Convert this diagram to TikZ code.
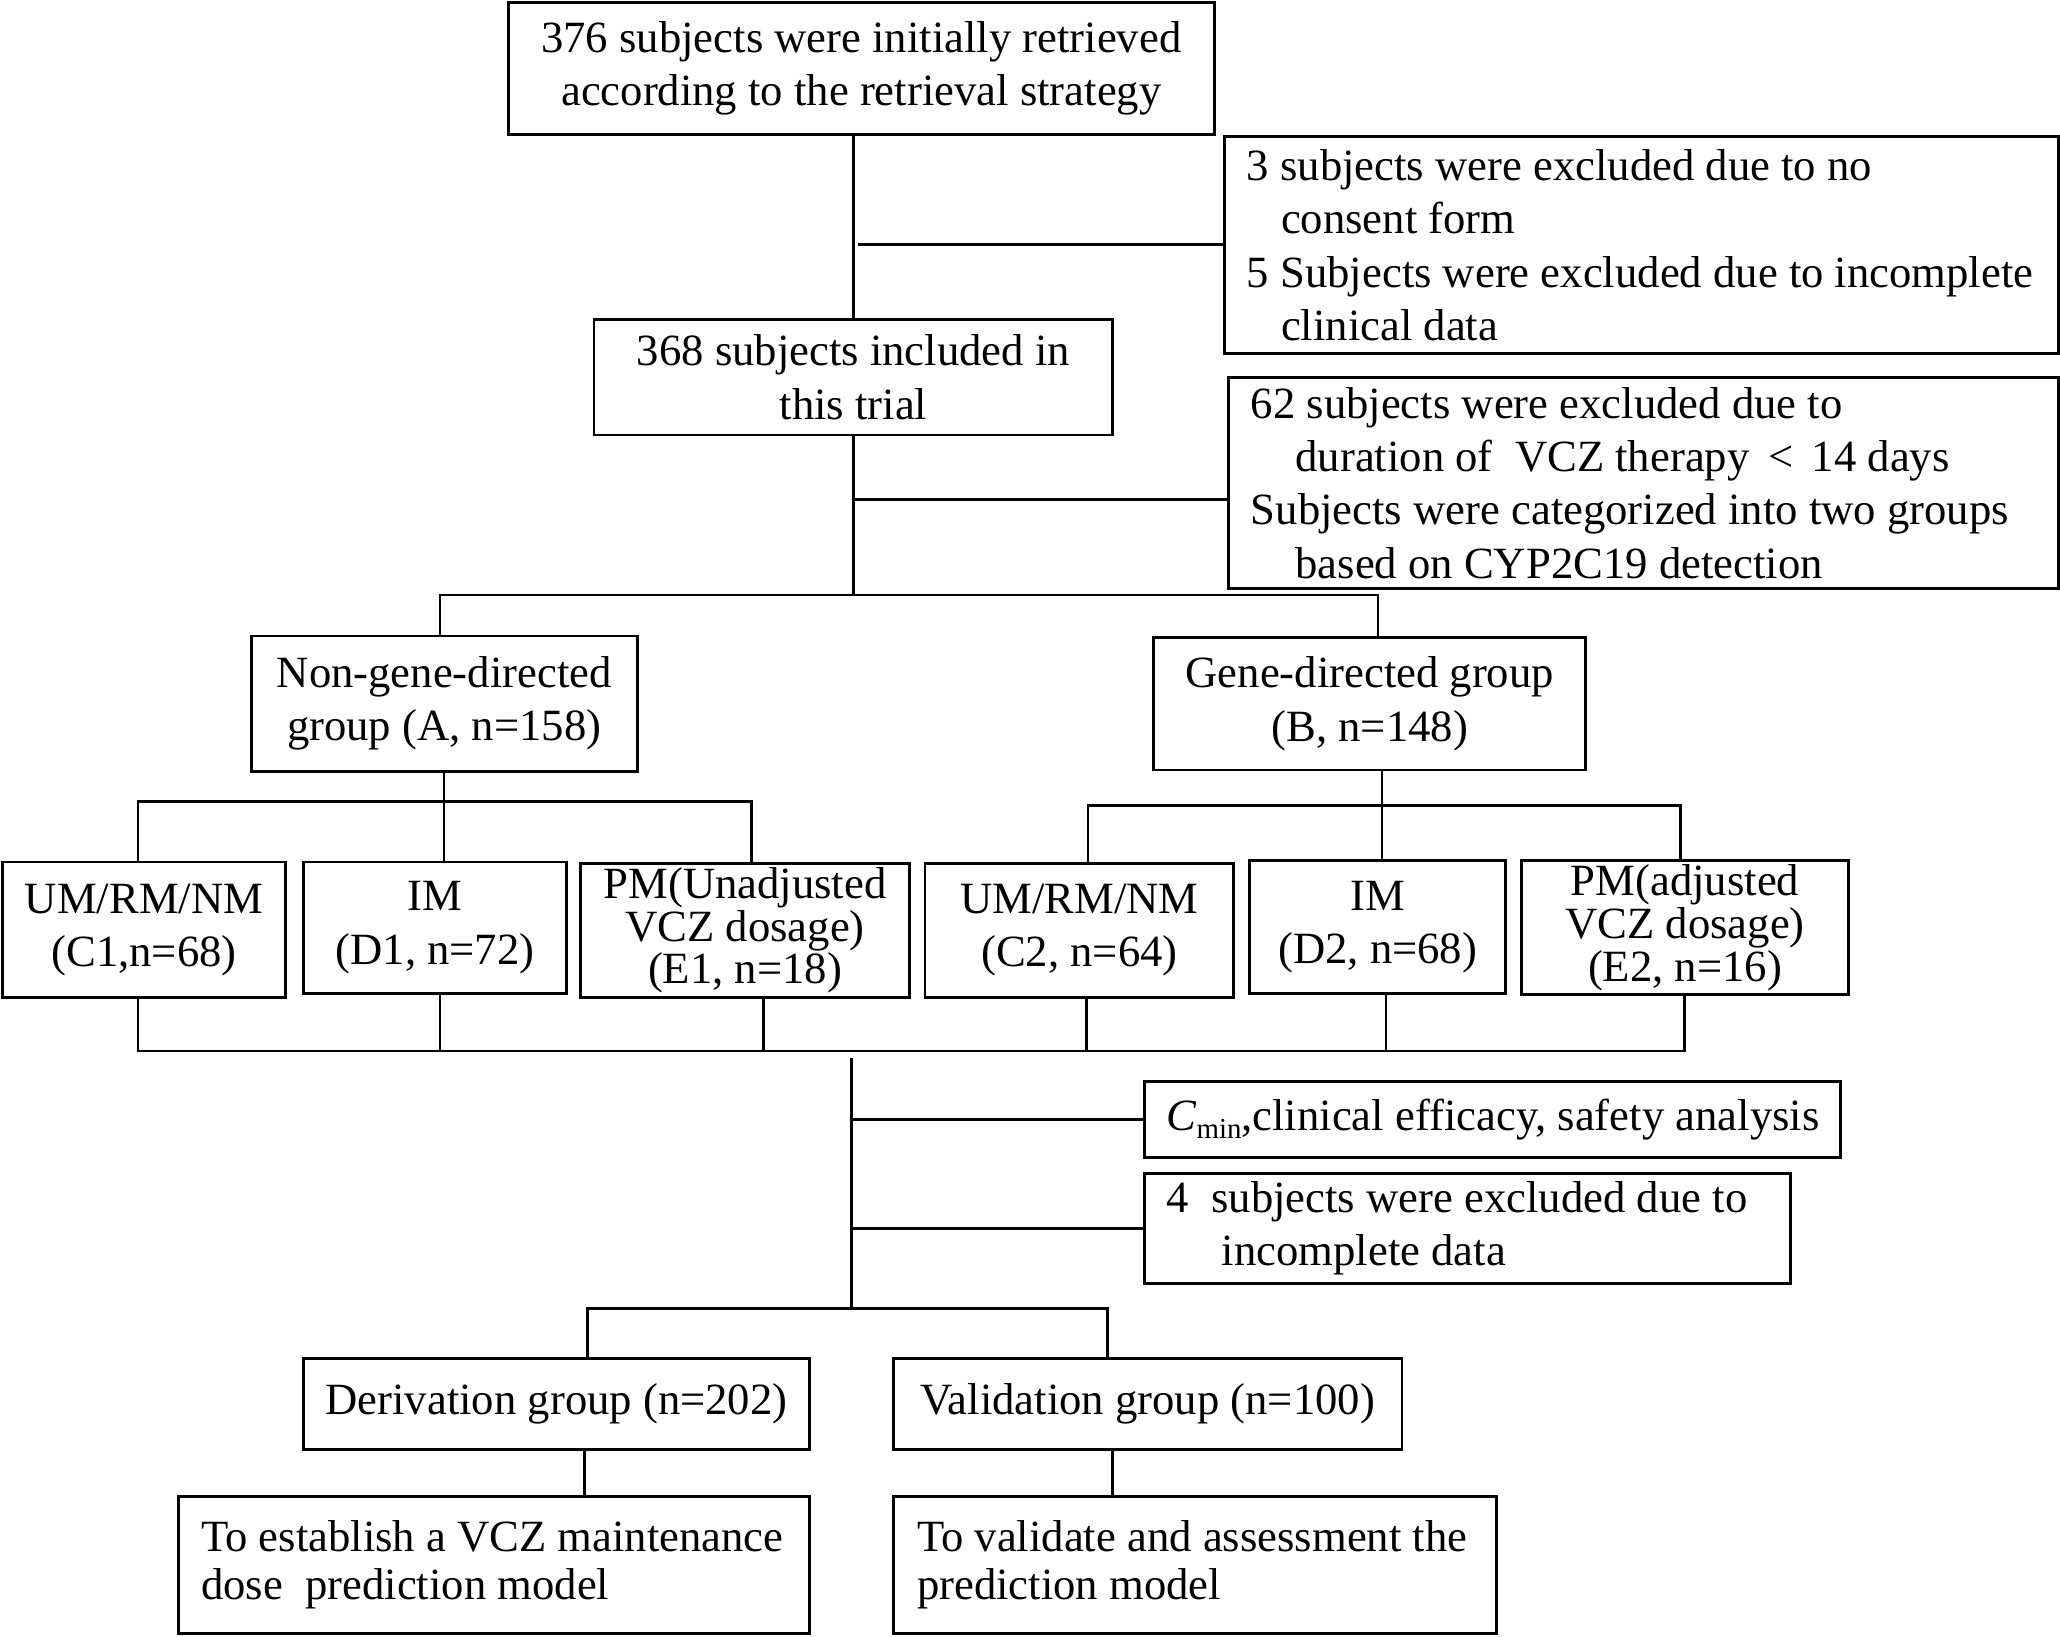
\documentclass[tikz,border=0pt]{standalone}
\usepackage{fontspec}
\setmainfont{Liberation Serif}
\newcommand{\oneln}[1]{\mbox{#1}}
\newcommand{\natsp}{\spaceskip=0pt\relax\xspaceskip=0pt\relax}
\begin{document}
\begin{tikzpicture}[x=1pt,y=-1pt]
\tikzset{
 bx/.style={draw, line width=2.2pt, inner sep=0pt, anchor=north west, align=center, font=\fontsize{34}{40.5}\selectfont},
 lbx/.style={bx, align=flush left},
 ln/.style={line width=2pt},
}
\useasboundingbox (0,0) rectangle (1568,1245.3);
\node[bx, minimum width=537pt, minimum height=100pt] (top) at (386,1) {376 subjects were initially retrieved\\according to the retrieval strategy};
\node[lbx, text width=601pt, inner xsep=17pt, minimum height=165pt] (ex1) at (931,103) {\natsp\oneln{3 subjects were excluded due to no}\\\hspace*{26pt}consent form\\\oneln{5 Subjects were excluded due to incomplete}\\\hspace*{26pt}clinical data};
\node[bx, minimum width=395pt, minimum height=88pt] (inc) at (451,242) {368 subjects included in\\this trial};
\node[lbx, text width=598pt, inner xsep=17pt, minimum height=161pt] (ex2) at (934,286) {\natsp\oneln{62 subjects were excluded due to}\\\hspace*{34pt}\oneln{duration of\ \ VCZ therapy\ \,<\ \,14 days}\\\oneln{Subjects were categorized into two groups}\\\hspace*{34pt}\oneln{based on CYP2C19 detection}};
\node[bx, minimum width=294pt, minimum height=103pt] (A) at (190,483) {Non-gene-directed\\group (A, n=158)};
\node[bx, minimum width=329pt, minimum height=101pt] (B) at (877,484) {Gene-directed group\\(B, n=148)};
\node[bx, minimum width=215pt, minimum height=103pt] (C1) at (1,655) {UM/RM/NM\\(C1,n=68)};
\node[bx, minimum width=200pt, minimum height=100pt] (D1) at (230,655) {IM\\(D1, n=72)};
\node[bx, minimum width=250pt, minimum height=102pt, font=\fontsize{34}{32.5}\selectfont] (E1) at (441,656) {PM(Unadjusted\\VCZ dosage)\\(E1, n=18)};
\node[bx, minimum width=235pt, minimum height=102pt] (C2) at (703,656) {UM/RM/NM\\(C2, n=64)};
\node[bx, minimum width=195pt, minimum height=101pt] (D2) at (950,654) {IM\\(D2, n=68)};
\node[bx, minimum width=249pt, minimum height=102pt, font=\fontsize{34}{32.5}\selectfont] (E2) at (1157,654) {PM(adjusted\\VCZ dosage)\\(E2, n=16)};
\node[lbx, text width=496pt, inner xsep=17pt, minimum height=58pt] (cmin) at (870,822) {\natsp\oneln{{\itshape C}\raisebox{-6pt}{\fontsize{22}{22}\selectfont min},clinical efficacy, safety analysis}};
\node[lbx, text width=458pt, inner xsep=17pt, minimum height=84pt] (b4) at (870,892) {\natsp\oneln{4\ \ subjects were excluded due to}\\\hspace*{42pt}incomplete data};
\node[bx, minimum width=385pt, minimum height=69pt] (der) at (230,1033) {Derivation group (n=202)};
\node[bx, minimum width=387pt, minimum height=69pt] (val) at (679,1033) {Validation group (n=100)};
\node[lbx, text width=446pt, inner xsep=17pt, minimum height=104pt, font=\fontsize{34}{37}\selectfont] (est) at (135,1138) {\natsp\oneln{To establish a VCZ maintenance}\\\oneln{dose\ \ prediction model}};
\node[lbx, text width=423pt, inner xsep=18pt, minimum height=104pt, font=\fontsize{34}{37}\selectfont] (vm) at (679,1138) {\natsp\oneln{To validate and assessment the}\\\oneln{prediction model}};
% connectors
\draw[ln] (inc.north |- top.south) -- (inc.north);
\coordinate (j1) at (653,186);
\draw[ln] (j1) -- (j1 -| ex1.west);
\coordinate (j2) at (649,380);
\draw[ln] (j2) -- (j2 -| ex2.west);
\coordinate (bL) at (335,453);
\coordinate (bR) at (1049,453);
\draw[ln] (inc.south) -- (inc.south |- bL);
\draw[ln] (bL |- A.north) -- (bL) -- (bR) -- (bR |- B.north);
\coordinate (aL) at (105,610);
\coordinate (aM) at (338,610);
\coordinate (aR) at (572,610);
\draw[ln] (aM |- A.south) -- (aM |- D1.north);
\draw[ln] (aL |- C1.north) -- (aL) -- (aR) -- (aR |- E1.north);
\coordinate (gL) at (828,613);
\coordinate (gM) at (1052,613);
\coordinate (gR) at (1279,613);
\draw[ln] (gM |- B.south) -- (gM |- D2.north);
\draw[ln] (gL |- C2.north) -- (gL) -- (gR) -- (gR |- E2.north);
\coordinate (u1) at (105,800);
\coordinate (u2) at (335,800);
\coordinate (u3) at (581,800);
\coordinate (u4) at (827,800);
\coordinate (u5) at (1055,800);
\coordinate (u6) at (1282,800);
\draw[ln] (u1 |- C1.south) -- (u1) -- (u6) -- (u6 |- E2.south);
\draw[ln] (u2 |- D1.south) -- (u2);
\draw[ln] (u3 |- E1.south) -- (u3);
\draw[ln] (u4 |- C2.south) -- (u4);
\draw[ln] (u5 |- D2.south) -- (u5);
\coordinate (m0) at (648,805);
\coordinate (m1) at (648,996);
\draw[ln] (m0) -- (m1);
\draw[ln] (m0 |- cmin.west) -- (cmin.west);
\draw[ln] (m0 |- b4.west) -- (b4.west);
\coordinate (dL) at (447,996);
\coordinate (dR) at (843,996);
\draw[ln] (dL |- der.north) -- (dL) -- (dR) -- (dR |- val.north);
\coordinate (eL) at (445,1120);
\coordinate (eR) at (847,1120);
\draw[ln] (eL |- der.south) -- (eL |- est.north);
\draw[ln] (eR |- val.south) -- (eR |- vm.north);
\end{tikzpicture}
\end{document}
